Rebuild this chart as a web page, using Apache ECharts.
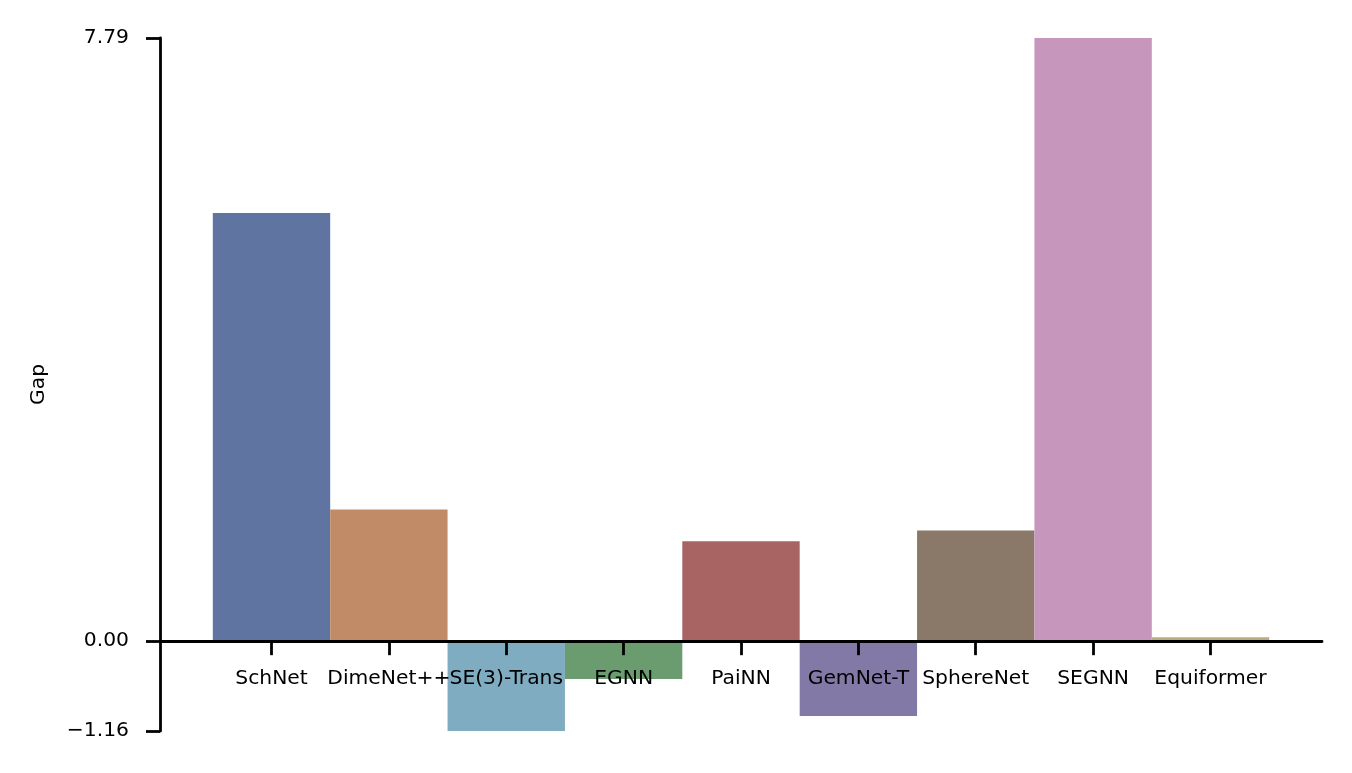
<!DOCTYPE html>
<html>
<head>
<meta charset="utf-8">
<script src="https://cdn.jsdelivr.net/npm/echarts@6/dist/echarts.min.js"></script>
<style>
html,body{margin:0;padding:0;background:#fff;}
#c{width:1352px;height:773px;}
</style>
</head>
<body>
<div id="c"></div>
<script>
const categories = ['SchNet','DimeNet++','SE(3)-Trans','EGNN','PaiNN','GemNet-T','SphereNet','SEGNN','Equiformer'];
const gapValues = [5.53, 1.70, -1.16, -0.49, 1.29, -0.965, 1.43, 7.79, 0.05];
const barColors = ['#5F74A0','#C18B67','#7FACC0','#6A9C70','#A86363','#8379A6','#8A7968','#C796BC','#B8AC83'];
const yTickValues = [-1.16, 0, 7.79];
const yAxisName = 'Gap';

const FONT = 'DejaVu Sans';
const FS = 20.3;
const Y_MIN = -1.16, Y_MAX = 7.79;
const X_MIN = -0.95, X_MAX = 8.95;
const chart = echarts.init(document.getElementById('c'), null, {renderer:'canvas'});
const idx = categories.map((_, i) => i);

// pixel geometry of plot area
const H = 773, TOP = 38, BOTTOM = 42;
const plotH = H - TOP - BOTTOM;
const zeroFromBottom = BOTTOM + plotH * (0 - Y_MIN) / (Y_MAX - Y_MIN);

chart.setOption({
  animation: false,
  backgroundColor: '#fff',
  grid: [
    {left: 160, right: 30, top: TOP, bottom: BOTTOM, containLabel: false, outerBoundsMode: 'none'},
    {left: 160, right: 30, top: TOP, bottom: zeroFromBottom, containLabel: false, outerBoundsMode: 'none'}
  ],
  xAxis: [
    {
      type: 'value', gridIndex: 0, min: X_MIN, max: X_MAX,
      axisLine: {show: false}, axisTick: {show: false}, axisLabel: {show: false}, splitLine: {show: false}
    },
    {
      type: 'value', gridIndex: 1, min: X_MIN, max: X_MAX, position: 'bottom',
      z: 10,
      splitLine: {show: false},
      axisLine: {show: true, onZero: false, lineStyle: {color: '#000', width: 2.8}},
      axisTick: {show: true, customValues: idx, length: 14, lineStyle: {color: '#000', width: 2.8}},
      axisLabel: {
        customValues: idx,
        formatter: v => categories[Math.round(v)],
        color: '#000', fontFamily: FONT, fontSize: FS, margin: 28, hideOverlap: false
      }
    }
  ],
  yAxis: [
    {
      type: 'value', gridIndex: 0, min: Y_MIN, max: Y_MAX,
      name: yAxisName,
      nameLocation: 'middle',
      nameGap: 111,
      nameTextStyle: {color: '#000', fontFamily: FONT, fontSize: FS},
      splitLine: {show: false},
      axisLine: {show: true, onZero: false, lineStyle: {color: '#000', width: 2.8}},
      axisTick: {show: true, customValues: yTickValues, length: 14, lineStyle: {color: '#000', width: 2.8}},
      axisLabel: {
        customValues: yTickValues,
        formatter: v => (v < 0 ? '\u2212' + Math.abs(v).toFixed(2) : v.toFixed(2)),
        color: '#000', fontFamily: FONT, fontSize: FS, margin: 31
      }
    },
    {
      type: 'value', gridIndex: 1, min: 0, max: 1, show: false
    }
  ],
  series: [{
    type: 'bar',
    xAxisIndex: 0, yAxisIndex: 0,
    barWidth: '100%',
    data: gapValues.map((v, i) => ({value: [i, v], itemStyle: {color: barColors[i]}}))
  }]
});
</script>
</body>
</html>
